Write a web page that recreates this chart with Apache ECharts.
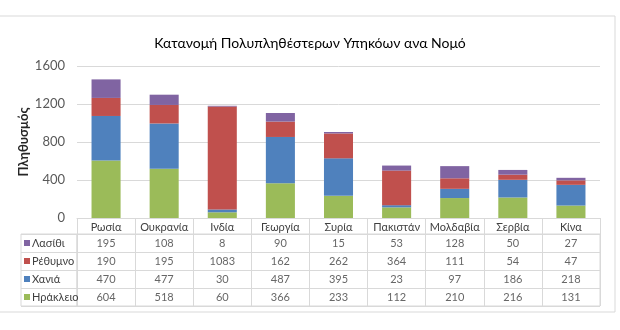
<!DOCTYPE html>
<html><head><meta charset="utf-8">
<script src="https://cdn.jsdelivr.net/npm/echarts@6/dist/echarts.min.js"></script>
<style>html,body{margin:0;padding:0;background:#fff}#c{width:620px;height:330px}</style>
</head><body><div id="c"></div>
<script>
const categories = ['Ρωσία','Ουκρανία','Ινδία','Γεωργία','Συρία','Πακιστάν','Μολδαβία','Σερβία','Κίνα'];
const lasithi  = [195,108,8,90,15,53,128,50,27];
const rethymno = [190,195,1083,162,262,364,111,54,47];
const chania   = [470,477,30,487,395,23,97,186,218];
const irakleio = [604,518,60,366,233,112,210,216,131];
const yTicks = [0,400,800,1200,1600];
const title = 'Κατανομή Πολυπληθέστερων Υπηκόων ανα Νομό';
const yName = 'Πληθυσμός';

// stacking order bottom -> top
const stackSeries = [
  {name:'Ηράκλειο', data:irakleio, color:'#9BBB59'},
  {name:'Χανιά', data:chania, color:'#4F81BD'},
  {name:'Ρέθυμνο', data:rethymno, color:'#C0504D'},
  {name:'Λασίθι', data:lasithi, color:'#8064A2'}
];
// table order top -> bottom
const tableRows = [stackSeries[3], stackSeries[2], stackSeries[1], stackSeries[0]];

const FONT = 'Lato';
const gridLine = '#d9d9d9';

const cells = [];
tableRows.forEach(r => r.data.forEach((v,i) => cells.push([i, r.name, v])));

const rich = {t:{color:'#404040', fontSize:11, fontFamily:FONT, padding:[0,0,0,2]}};
tableRows.forEach((r,i) => { rich['m'+i] = {width:6, height:6, backgroundColor:r.color}; });

const chart = echarts.init(document.getElementById('c'), null, {renderer:'canvas'});
chart.setOption({
  animation:false,
  backgroundColor:'#fff',
  textStyle:{fontFamily:FONT},
  title:{text:title, left:'center', top:31, textStyle:{fontSize:14, fontWeight:'normal', color:'#000', fontFamily:FONT}},
  graphic:[{type:'rect', shape:{x:-1, y:16, width:616, height:296}, style:{fill:'none', stroke:gridLine, lineWidth:1}, silent:true}],
  grid:[
    {left:77, right:20, top:66, height:152},
    {left:77, right:20, top:234, height:72, show:true, borderColor:gridLine, borderWidth:1},
    {left:21, width:56, top:234, height:72, show:true, borderColor:gridLine, borderWidth:1}
  ],
  xAxis:[
    {type:'category', gridIndex:0, data:categories,
     axisLine:{lineStyle:{color:gridLine}},
     axisTick:{show:true, interval:0, length:16, lineStyle:{color:gridLine}},
     axisLabel:{interval:0, color:'#404040', fontSize:11, margin:4, fontFamily:FONT}},
    {type:'category', gridIndex:1, data:categories,
     axisLine:{show:false}, axisTick:{show:false}, axisLabel:{show:false},
     splitLine:{show:true, interval:0, lineStyle:{color:gridLine}}},
    {type:'value', gridIndex:2, show:false}
  ],
  yAxis:[
    {type:'value', gridIndex:0, min:0, max:yTicks[yTicks.length-1], interval:400,
     name:yName, nameLocation:'middle', nameGap:47, nameRotate:90, nameMoveOverlap:false,
     nameTextStyle:{fontSize:13, fontWeight:'bold', color:'#262626', fontFamily:FONT},
     axisLine:{show:false}, axisTick:{show:false},
     axisLabel:{color:'#595959', fontSize:13, margin:12, fontFamily:FONT, formatter:v=>String(v)},
     splitLine:{lineStyle:{color:gridLine}}},
    {type:'category', gridIndex:1, inverse:true, data:tableRows.map(r=>r.name),
     axisLine:{show:false}, axisTick:{show:false}, axisLabel:{show:false},
     splitLine:{show:true, interval:0, lineStyle:{color:gridLine}}},
    {type:'category', gridIndex:2, inverse:true, data:tableRows.map(r=>r.name),
     axisLine:{show:false}, axisTick:{show:false},
     axisLabel:{inside:true, margin:3, interval:0, align:'left',
       formatter:(v,i)=>'{m'+i+'|}{t|'+v+'}', rich:rich},
     splitLine:{show:true, interval:0, lineStyle:{color:gridLine}}}
  ],
  series: stackSeries.map(s => ({
    type:'bar', name:s.name, stack:'total', data:s.data, xAxisIndex:0, yAxisIndex:0,
    barCategoryGap:'50%', itemStyle:{color:s.color}
  })).concat([{
    type:'scatter', xAxisIndex:1, yAxisIndex:1, data:cells, symbolSize:0.1,
    itemStyle:{color:'transparent'}, silent:true,
    label:{show:true, position:'inside', formatter:p=>p.value[2], color:'#404040', fontSize:11, fontFamily:FONT}
  }])
});
</script></body></html>
